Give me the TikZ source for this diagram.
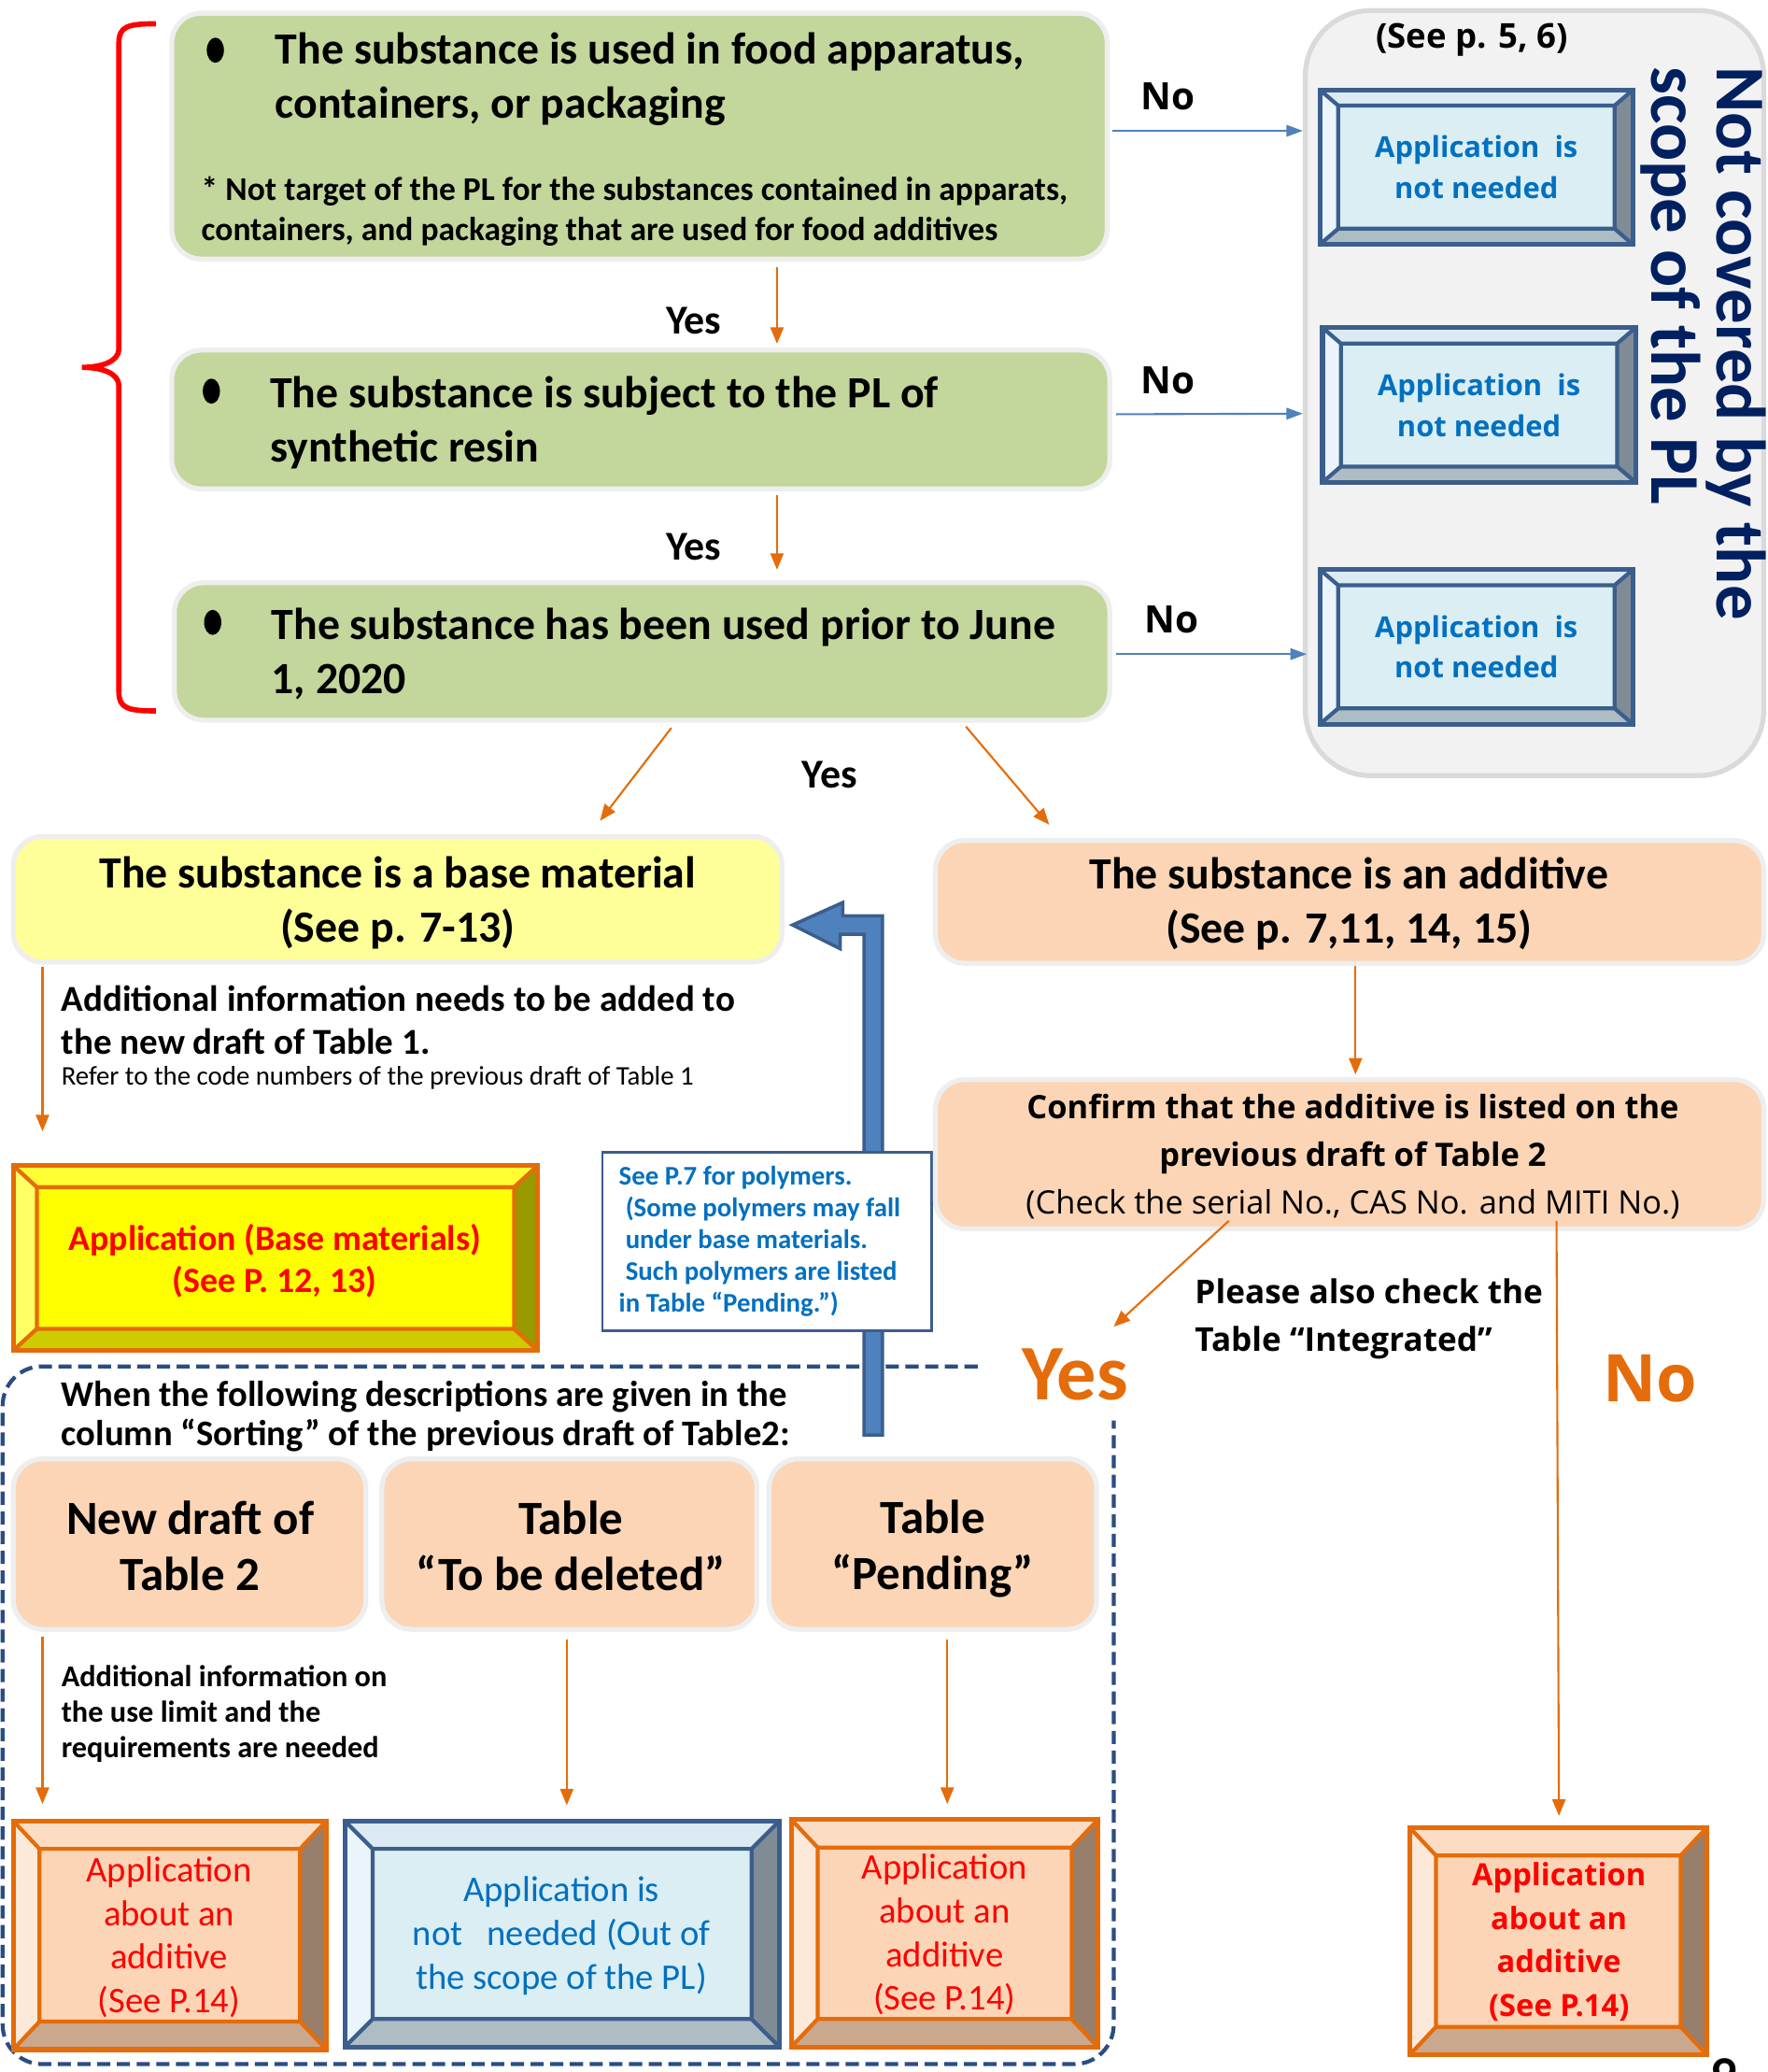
\documentclass[tikz,border=0pt]{standalone}
\usepackage{fontspec}
\setmainfont{Carlito}
\newfontfamily\mei{Open Sans}
\usetikzlibrary{calc,arrows.meta,shapes.geometric}
\definecolor{grn}{HTML}{C3D69B}
\definecolor{rim}{HTML}{EEEEEE}
\definecolor{ylw}{HTML}{FFFF99}
\definecolor{pch}{HTML}{FBD5B5}
\definecolor{org}{HTML}{E46C0A}
\definecolor{blu}{HTML}{4F81BD}
\definecolor{bludk}{HTML}{3B5E8C}
\definecolor{dashnavy}{HTML}{2A4D82}
\definecolor{tblue}{HTML}{0070C0}
\definecolor{dknavy}{HTML}{002060}
\definecolor{panel}{HTML}{F2F2F2}
\definecolor{panelrim}{HTML}{DADADA}
\definecolor{bBt}{HTML}{DCEBF3}
\definecolor{bBl}{HTML}{EAF4FA}
\definecolor{bBf}{HTML}{DAEEF3}
\definecolor{bBb}{HTML}{AEBCC4}
\definecolor{bBr}{HTML}{7F8C95}
\definecolor{bOt}{HTML}{FCDDC3}
\definecolor{bOl}{HTML}{FDE9DA}
\definecolor{bOf}{HTML}{FBD5B5}
\definecolor{bOb}{HTML}{C9A88E}
\definecolor{bOr}{HTML}{987F6C}
\definecolor{bYt}{HTML}{FFFF33}
\definecolor{bYl}{HTML}{FFFF66}
\definecolor{bYf}{HTML}{FFFF00}
\definecolor{bYb}{HTML}{CCCC00}
\definecolor{bYr}{HTML}{999900}
\newcommand\fs[2]{\fontsize{#1}{#2}\selectfont}
\def\U{0.01415cm}
\newcommand\bevelpic[8]{%
  \coordinate (bA) at (path picture bounding box.north west);
  \coordinate (bB) at (path picture bounding box.north east);
  \coordinate (bC) at (path picture bounding box.south east);
  \coordinate (bD) at (path picture bounding box.south west);
  \coordinate (ba) at ($(bA)+(#7,-#8)$);
  \coordinate (bb) at ($(bB)+(-#7,-#8)$);
  \coordinate (bc) at ($(bC)+(-#7,#8)$);
  \coordinate (bd) at ($(bD)+(#7,#8)$);
  \fill[#2] (bA)--(bB)--(bb)--(ba)--cycle;
  \fill[#3] (bA)--(ba)--(bd)--(bD)--cycle;
  \fill[#4] (bD)--(bd)--(bc)--(bC)--cycle;
  \fill[#5] (bB)--(bC)--(bc)--(bb)--cycle;
  \fill[#6] (ba) rectangle (bc);
  \draw[#1,line width=1.2pt,line join=round] (ba) rectangle (bc) (bA)--(ba) (bB)--(bb) (bC)--(bc) (bD)--(bd);
}
\tikzset{
  sz/.style 2 args={minimum width=#1*\U, minimum height=#2*\U},
  rbox/.style={draw=rim, line width=1.5pt, rounded corners=9pt, inner sep=0pt},
  gbox/.style={rbox, fill=grn},
  ybox/.style={rbox, fill=ylw},
  pbox/.style={rbox, fill=pch},
  bevblue/.style 2 args={draw=bludk, line width=1.5pt, inner sep=0pt,
     path picture={\bevelpic{bludk}{bBt}{bBl}{bBb}{bBr}{bBf}{#1}{#2}}},
  bevorange/.style 2 args={draw=org, line width=1.5pt, inner sep=0pt,
     path picture={\bevelpic{org}{bOt}{bOl}{bOb}{bOr}{bOf}{#1}{#2}}},
  bevyellow/.style 2 args={draw=org, line width=1.5pt, inner sep=0pt,
     path picture={\bevelpic{org}{bYt}{bYl}{bYb}{bYr}{bYf}{#1}{#2}}},
  oarr/.style={draw=org, line width=0.6pt, -{Triangle[length=5pt,width=4pt]}},
  barr/.style={draw=blu, line width=0.6pt, -{Triangle[length=5pt,width=3.5pt]}},
  txt/.style={inner sep=0pt, align=left},
  ctxt/.style={inner sep=0pt, align=center},
  bul/.style={ellipse, fill=black, inner sep=0pt, minimum width=13*\U, minimum height=19*\U},
}
\begin{document}
\begin{tikzpicture}[x=0.01415cm,y=-0.01415cm]
\useasboundingbox (0,0) rectangle (1338,1568);

% red bracket
\draw[red, line width=1.6pt] (118,18) .. controls (97,18) and (90,20) .. (90,32) -- (90,264) .. controls (90,274) and (76,278) .. (62,278) .. controls (76,278) and (90,282) .. (90,292) -- (90,524) .. controls (90,536) and (97,538) .. (118,538);

% right panel
\node[draw=panelrim, fill=panel, line width=1.5pt, rounded corners=20pt, sz={347}{579}] (panel) at (1161.5,297.5) {};
\node[ctxt, font=\mei\bfseries\fs{10.4}{12}] (seep) at (1114,30) {(See p. 5, 6)};
\node[inner sep=0pt, align=left, rotate=-90, anchor=north west, text=dknavy, font=\bfseries\fs{21.3}{19.7}] (notcov) at (1337,50) {Not covered by the\\scope of the PL};

\node[bevblue={5.6pt}{4.8pt}, sz={237}{117}] (nn1) at (1117.5,126.5) {};
\node[bevblue={5.6pt}{4.8pt}, sz={237}{117}] (nn2) at (1119.5,306.5) {};
\node[bevblue={5.6pt}{4.8pt}, sz={237}{117}] (nn3) at (1117.5,489.5) {};
\foreach \n in {1,2,3}{
  \node[ctxt, text=tblue, font=\mei\bfseries\fs{8.8}{12.5}] (nnt\n) at (nn\n) {Application\ \ is\\not needed};
}

% green boxes
\node[gbox, sz={708}{186}] (g1) at (484,103) {};
\node[gbox, sz={710}{105}] (g2) at (485,317.5) {};
\node[gbox, sz={708}{104}] (g3) at (486,493) {};
\node[bul] (bu1) at (163,38) {};
\node[bul] (bu2) at (160,296) {};
\node[bul] (bu3) at (161,471) {};
\node[txt, anchor=west, font=\bfseries\fs{13.6}{16.5}] (g1t) at (208,60) {The substance is used in food apparatus,\\containers, or packaging};
\node[txt, anchor=west, font=\bfseries\fs{10.1}{12.5}] (g1n) at (152,160) {* Not target of the PL for the substances contained in apparats,\\containers, and packaging that are used for food additives};
\node[txt, anchor=west, font=\bfseries\fs{13.6}{16.5}] (g2t) at (204,320) {The substance is subject to the PL of\\synthetic resin};
\node[txt, anchor=west, font=\bfseries\fs{13.6}{16.5}] (g3t) at (205,495) {The substance has been used prior to June\\1, 2020};

% Yes/No between green boxes
\draw[oarr] ($(g1.south west)+(460,4)$) -- ($(g2.north west)+(460,-3)$);
\draw[oarr] ($(g2.south west)+(460,3)$) -- ($(g3.north west)+(458,-8)$);
\node[ctxt, font=\bfseries\fs{12.5}{14}] (y1) at (525,243) {Yes};
\node[ctxt, font=\bfseries\fs{12.5}{14}] (y2) at (525,414) {Yes};
\draw[barr] ($(g1.east)+(2,-4)$) -- (panel.west |- 0,99);
\draw[barr] ($(g2.east)+(3,-4)$) -- (panel.west |- 0,313);
\draw[barr] ($(g3.east)+(3,2)$) -- ($(panel.west |- 0,495)+(3,0)$);
\node[ctxt, font=\mei\bfseries\fs{11.5}{13}] (no1) at (884,73) {No};
\node[ctxt, font=\mei\bfseries\fs{11.5}{13}] (no2) at (884,288) {No};
\node[ctxt, font=\mei\bfseries\fs{11.5}{13}] (no3) at (887,469) {No};

% base material / additive
\node[ybox, sz={582}{95}] (base) at (301,680.5) {};
\node[ctxt, font=\bfseries\fs{13.6}{16.5}] (baset) at (301,683) {The substance is a base material\\(See p. 7-13)};
\node[pbox, sz={627}{93}] (addv) at (1021.5,682.5) {};
\node[ctxt, font=\bfseries\fs{13.6}{16.5}] (addvt) at (1021,684) {The substance is an additive\\(See p. 7,11, 14, 15)};
\draw[oarr] ($(g3.south west)+(378,4)$) -- ($(base.north west)+(446,-10)$);
\draw[oarr] ($(g3.south west)+(601,3)$) -- ($(addv.north west)+(88,-10)$);
\node[ctxt, font=\bfseries\fs{12.5}{14}] (y3) at (628,586) {Yes};

% base material branch
\node[txt, anchor=west, font=\bfseries\fs{11.1}{13.3}] (addinfo) at (46,772) {Additional information needs to be added to\\the new draft of Table 1.};
\node[txt, anchor=west, font=\fs{8.2}{10}] (refer) at (46,816) {Refer to the code numbers of the previous draft of Table 1};
\node[bevyellow={7.2pt}{6.6pt}, sz={397}{140}] (appbase) at (208.5,952) {};
\node[ctxt, text=red, font=\bfseries\fs{10.8}{12.9}] (appbaset) at (208,954) {Application (Base materials)\\(See P. 12, 13)};
\draw[oarr] ($(base.south west)+(24,2)$) -- ($(appbase.north west)+(24,-24)$);

% dashed region and bent arrow
\draw[dashnavy, line width=1.2pt, dash pattern=on 4pt off 2pt, rounded corners=12pt] (740,1034) -- (2,1034) -- (2,1562) -- (843,1562) -- (843,1075);
\coordinate (bendtip) at ($(base.east)+(6,19.5)$);
\coordinate (bendfoot) at (661,1086);
\filldraw[fill=blu, draw=bludk, line width=1pt, line join=miter] (bendtip) -- ++(38,-17) -- ++(0,10) -- (668,693) -- ($(bendfoot)+(7,0)$) -- ($(bendfoot)+(-7,0)$) -- (654,707) -- (636,707) -- (636,718) -- cycle;
\node[draw=bludk, fill=white, line width=0.8pt, sz={249}{135}] (polybox) at (580.5,939.5) {};
\node[txt, anchor=west, text=tblue, font=\bfseries\fs{8.2}{9.7}] (polyt) at (468,939.5) {See P.7 for polymers.\\\hspace{2pt}(Some polymers may fall\\\hspace{2pt}under base materials.\\\hspace{2pt}Such polymers are listed\\in Table “Pending.”)};

% additive branch
\node[pbox, sz={627}{113}] (conf) at (1021.5,873.5) {};
\node[ctxt, font=\mei\fs{9.8}{14.5}] (conft) at (1024,875) {\textbf{Confirm that the additive is listed on the}\\\textbf{previous draft of Table 2}\\(Check the serial No., CAS No. and MITI No.)};
\draw[oarr] (addv.south -| 1026,0) -- ($(conf.north -| 1026,0)+(0,-2)$);
\draw[oarr] ($(conf.south west)+(224,-8)$) -- (843,1004);
\node[txt, anchor=west, font=\mei\bfseries\fs{10}{14.5}] (please) at (904,998) {Please also check the\\Table “Integrated”};
\node[ctxt, text=org, font=\bfseries\fs{24}{26}] (bigyes) at (814,1040) {Yes};
\node[ctxt, text=org, font=\mei\bfseries\fs{20}{22}] (bigno) at (1249,1043) {No};

\node[txt, anchor=west, font=\bfseries\fs{11}{12.1}] (when) at (46,1072) {When the following descriptions are given in the\\column “Sorting” of the previous draft of Table2:};
\node[pbox, sz={267}{129}] (p1) at (143.5,1168.5) {};
\node[pbox, sz={284}{129}] (p2) at (431,1168.5) {};
\node[pbox, sz={248}{129}] (p3) at (706,1168.5) {};
\node[ctxt, font=\bfseries\fs{14.5}{17}] (p1t) at (144,1170) {New draft of\\Table 2};
\node[ctxt, font=\bfseries\fs{14.5}{17}] (p2t) at (432,1170) {Table\\“To be deleted”};
\node[ctxt, font=\bfseries\fs{14.5}{17}] (p3t) at (706,1172) {Table\\“Pending”};
\node[txt, anchor=west, font=\bfseries\fs{9.2}{10.9}] (useinfo) at (46,1297) {Additional information on\\the use limit and the\\requirements are needed};

\node[bevorange={8pt}{8.5pt}, sz={237}{173}] (q1) at (128.5,1464.5) {};
\node[bevblue={8.5pt}{8.5pt}, sz={329}{171}] (q2) at (425.5,1463.5) {};
\node[bevorange={8pt}{8.5pt}, sz={232}{172}] (q3) at (715,1463) {};
\node[bevorange={8pt}{8.5pt}, sz={225}{172}] (q4) at (1179.5,1469) {};
\node[ctxt, text=red, font=\fs{11}{13.3}] (q1t) at (128,1466) {Application\\about an\\additive\\(See P.14)};
\node[ctxt, text=tblue, font=\fs{11}{13.3}] (q2t) at (425,1465) {Application is\\not\ \ \ needed (Out of\\the scope of the PL)};
\node[ctxt, text=red, font=\fs{11}{13.3}] (q3t) at (715,1464) {Application\\about an\\additive\\(See P.14)};
\node[ctxt, text=red, font=\mei\bfseries\fs{9.3}{13.3}] (q4t) at (1180,1469.5) {Application\\about an\\additive\\(See P.14)};

\draw[oarr] ($(p1.south west)+(24,4)$) -- ($(q1.north west)+(24,-11)$);
\draw[oarr] (p2.south -| 429,0) ++(0,6) -- ($(q2.north -| 429,0)+(0,-10)$);
\draw[oarr] (p3.south -| 717,0) ++(0,6) -- ($(q3.north -| 717,0)+(0,-10)$);
\draw[oarr] ($(conf.south west)+(472,-8)$) -- ($(q4.north -| 1180,0)+(0,-7)$);

\node[anchor=north, inner sep=0pt, font=\bfseries\fs{16}{18}] (pagenum) at (1305,1557) {9};
\end{tikzpicture}
\end{document}
